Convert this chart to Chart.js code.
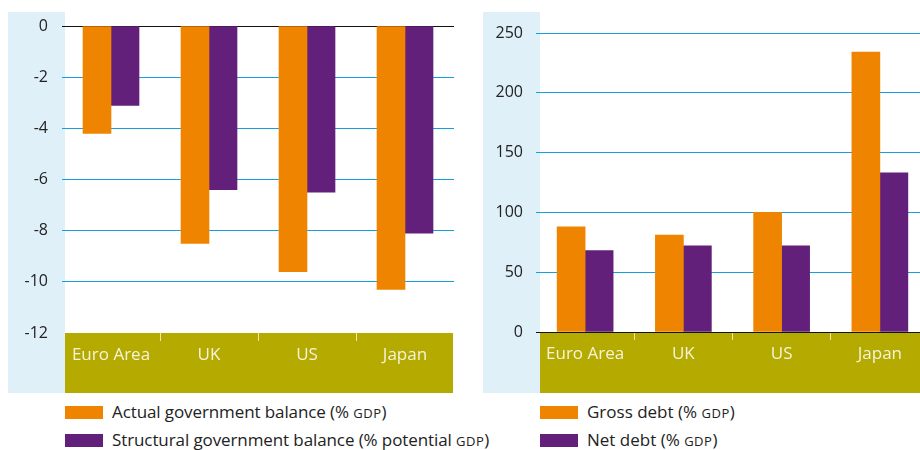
<!DOCTYPE html>
<html lang="en">
  <head>
    <meta charset="UTF-8" />
    <title>Government balance and debt</title>
    <script src="https://cdn.jsdelivr.net/npm/chart.js"></script>
    <style>
      html,
      body {
        margin: 0;
        padding: 0;
        background: #fff;
        width: 920px;
        height: 450px;
        overflow: hidden;
        position: relative;
        font-family: "Open Sans", sans-serif;
      }
      canvas {
        position: absolute;
        top: 0;
      }
      #balanceChart {
        left: 0;
      }
      #debtChart {
        left: 470px;
      }
      .swatch {
        position: absolute;
        width: 38px;
        height: 13px;
      }
      .label {
        position: absolute;
        font-size: 17px;
        line-height: 18px;
        color: #222;
        white-space: nowrap;
      }
      .sc {
        font-size: 13px;
        letter-spacing: 0.04em;
      }
    </style>
  </head>
  <body>
    <canvas id="balanceChart" width="460" height="400"></canvas>
    <canvas id="debtChart" width="470" height="400"></canvas>

    <!-- legends -->
    <div class="swatch" style="left: 65px; top: 406px; background: #ef8400"></div>
    <div class="label" style="left: 112px; top: 403px; letter-spacing: -0.1px">
      Actual government balance (% <span class="sc">GDP</span>)
    </div>
    <div class="swatch" style="left: 65px; top: 434px; background: #62207a"></div>
    <div class="label" style="left: 112px; top: 431px; letter-spacing: -0.1px">
      Structural government balance (% potential <span class="sc">GDP</span>)
    </div>
    <div class="swatch" style="left: 540px; top: 406px; background: #ef8400"></div>
    <div class="label" style="left: 587px; top: 403px">
      Gross debt (% <span class="sc">GDP</span>)
    </div>
    <div class="swatch" style="left: 540px; top: 434px; background: #62207a"></div>
    <div class="label" style="left: 587px; top: 431px">
      Net debt (% <span class="sc">GDP</span>)
    </div>

    <script>
      // data
      var categories = ["Euro Area", "UK", "US", "Japan"];
      var actualBalance = [-4.2, -8.5, -9.6, -10.3];
      var structuralBalance = [-3.1, -6.4, -6.5, -8.1];
      var grossDebt = [88, 81, 100, 234];
      var netDebt = [68, 72, 72, 133];

      var ORANGE = "#ef8400";
      var PURPLE = "#62207a";
      var GRID_BLUE = "#14a0dc";
      var FONT = "'Open Sans', sans-serif";

      // light blue box behind the y axis + olive band under the x axis
      var panelPlugin = {
        id: "panels",
        beforeDraw: function (chart, args, opts) {
          var c = chart.ctx;
          var area = chart.chartArea;
          c.save();
          c.fillStyle = "#dff0f9";
          c.fillRect(opts.boxLeft, 12, opts.boxWidth, 381);
          c.fillStyle = "#b5aa00";
          c.fillRect(opts.bandLeft, area.bottom, opts.bandWidth, 393 - area.bottom);
          c.restore();
        },
      };

      function tickMarkColor(ctx) {
        if (ctx.type === "tick" && ctx.index > 0) {
          return "rgba(255, 252, 225, 0.75)";
        }
        return "transparent";
      }

      function makeOptions(yMin, yMax, step, yWidth, padding, panels) {
        return {
          responsive: false,
          animation: false,
          layout: { padding: padding },
          plugins: {
            legend: { display: false },
            tooltip: { enabled: false },
            panels: panels,
          },
          scales: {
            x: {
              offset: true,
              border: { display: false },
              grid: {
                offset: true,
                drawOnChartArea: false,
                drawTicks: true,
                tickLength: 8,
                color: tickMarkColor,
              },
              ticks: {
                color: "#f6f3dc",
                font: { family: FONT, size: 17 },
                padding: 4,
                maxRotation: 0,
                autoSkip: false,
              },
              afterFit: function (s) {
                s.height = 60;
              },
            },
            y: {
              min: yMin,
              max: yMax,
              border: { display: false },
              grid: {
                drawTicks: false,
                lineWidth: 1,
                color: function (ctx) {
                  if (ctx.tick.value === 0) return "#111";
                  if (ctx.tick.value === yMin) return "transparent";
                  return GRID_BLUE;
                },
              },
              ticks: {
                stepSize: step,
                padding: 14,
                color: "#222",
                font: { family: FONT, size: 16 },
              },
              afterFit: function (s) {
                s.width = yWidth;
              },
            },
          },
        };
      }

      new Chart(document.getElementById("balanceChart"), {
        type: "bar",
        data: {
          labels: categories,
          datasets: [
            {
              label: "Actual government balance (% GDP)",
              data: actualBalance,
              backgroundColor: ORANGE,
              barThickness: 28,
            },
            {
              label: "Structural government balance (% potential GDP)",
              data: structuralBalance,
              backgroundColor: PURPLE,
              barThickness: 28,
            },
          ],
        },
        options: makeOptions(-12, 0, 2, 62, { top: 26, right: 6, bottom: 7, left: 0 }, {
          boxLeft: 8,
          boxWidth: 57,
          bandLeft: 65,
          bandWidth: 388,
        }),
        plugins: [panelPlugin],
      });

      var debtOptions = makeOptions(0, 250, 50, 66, { top: 33, right: 11, bottom: 8, left: 0 }, {
        boxLeft: 13,
        boxWidth: 57,
        bandLeft: 70,
        bandWidth: 400,
      });
      debtOptions.scales.y.ticks.padding = 13;

      new Chart(document.getElementById("debtChart"), {
        type: "bar",
        data: {
          labels: categories,
          datasets: [
            {
              label: "Gross debt (% GDP)",
              data: grossDebt,
              backgroundColor: ORANGE,
              barThickness: 28,
            },
            {
              label: "Net debt (% GDP)",
              data: netDebt,
              backgroundColor: PURPLE,
              barThickness: 28,
            },
          ],
        },
        options: debtOptions,
        plugins: [panelPlugin],
      });
    </script>
  </body>
</html>
